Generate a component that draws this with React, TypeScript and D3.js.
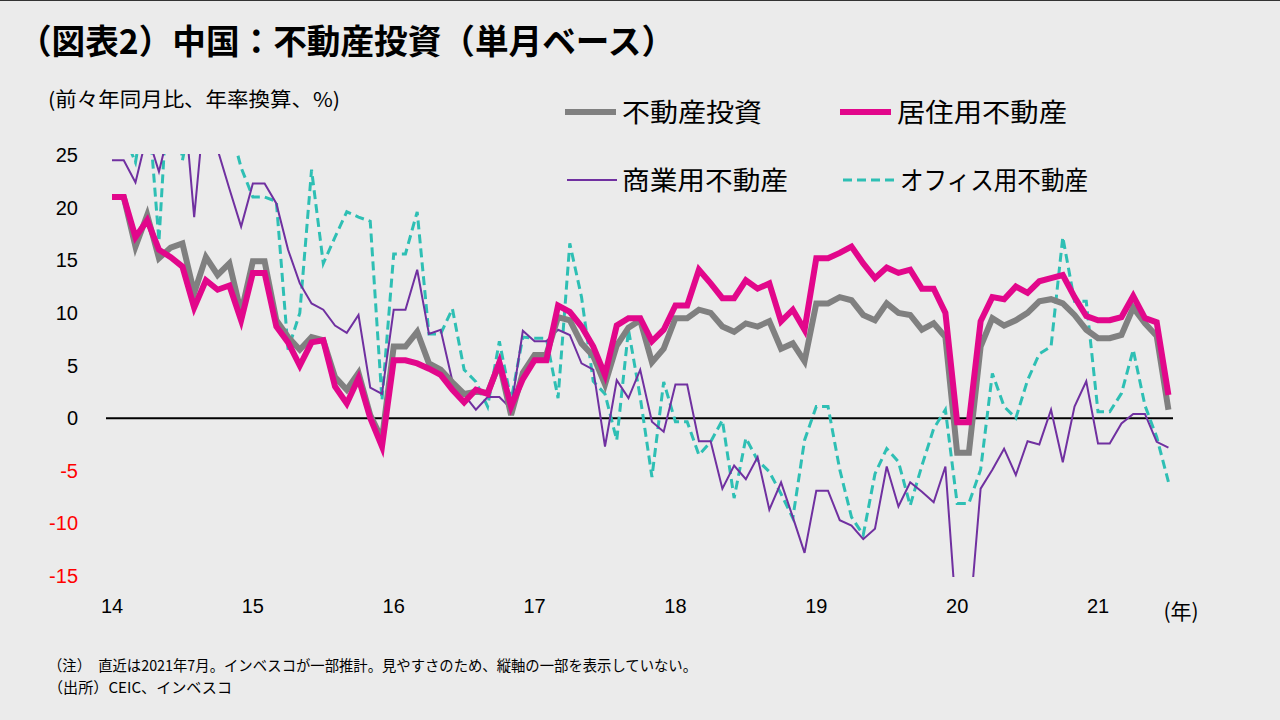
import React from "react";
import * as d3 from "d3";

// Monthly, Jan 2014 .. Jul 2021 (index 0..90)
const yearLabels = ["14", "15", "16", "17", "18", "19", "20", "21"];
const yTicks = [25, 20, 15, 10, 5, 0, -5, -10, -15];

const totalInvestment = [
  21.0, 21.0, 16.3, 19.3, 15.2, 16.2, 16.6, 11.9, 15.3, 13.6, 14.7, 10.0,
  14.9, 14.9, 9.3, 7.7, 6.5, 7.7, 7.4, 3.9, 2.7, 4.3, 0.3, -2.0,
  6.8, 6.8, 8.2, 5.2, 4.6, 3.4, 2.3, 2.5, 2.4, 5.2, 0.3, 4.3,
  6.0, 6.0, 9.6, 9.3, 7.1, 5.9, 3.2, 6.9, 8.6, 9.3, 5.3, 6.6,
  9.5, 9.5, 10.3, 10.0, 8.7, 8.2, 9.0, 8.7, 9.2, 6.6, 7.1, 5.4,
  10.9, 10.9, 11.5, 11.2, 9.8, 9.3, 10.9, 10.0, 9.8, 8.4, 9.0, 7.7,
  -3.3, -3.3, 6.8, 9.5, 8.8, 9.3, 10.0, 11.1, 11.3, 10.9, 9.8, 8.4,
  7.6, 7.6, 7.9, 10.5, 9.0, 7.8, 0.8,
];

const residential = [
  21.0, 21.0, 17.2, 18.8, 16.0, 15.3, 14.4, 10.5, 13.1, 12.2, 12.6, 9.3,
  13.8, 13.8, 8.7, 7.2, 5.0, 7.2, 7.4, 3.0, 1.4, 3.8, 0.0, -2.7,
  5.5, 5.5, 5.2, 4.7, 4.1, 2.7, 1.5, 2.7, 2.3, 5.3, 1.1, 3.7,
  5.5, 5.5, 10.7, 10.1, 8.7, 6.8, 4.1, 8.8, 9.5, 9.5, 7.3, 8.4,
  10.7, 10.7, 14.1, 12.8, 11.4, 11.4, 13.1, 12.3, 12.8, 9.2, 10.3, 8.4,
  15.2, 15.2, 15.7, 16.3, 14.7, 13.3, 14.3, 13.8, 14.1, 12.3, 12.3, 10.0,
  -0.4, -0.4, 9.2, 11.5, 11.3, 12.5, 11.9, 13.0, 13.3, 13.6, 11.5, 9.7,
  9.3, 9.3, 9.6, 11.6, 9.5, 9.1, 2.2,
];

const commercial = [
  24.5, 24.5, 22.4, 27.0, 23.4, 28.0, 32.0, 19.1, 31.0, 25.5, 21.8, 18.2,
  22.3, 22.3, 20.4, 16.0, 12.8, 10.9, 10.3, 8.8, 8.1, 9.8, 2.9, 2.3,
  10.3, 10.3, 14.1, 8.0, 8.4, 3.5, 2.2, 0.8, 2.0, 2.0, 0.9, 8.3,
  7.3, 7.3, 8.4, 7.9, 5.2, 4.6, -2.7, 3.6, 1.9, 4.6, -0.35, -1.3,
  3.2, 3.2, -2.2, -2.2, -6.7, -4.5, -5.8, -3.7, -8.7, -6.1, -9.4, -12.8,
  -6.9, -6.9, -9.7, -10.2, -11.5, -10.5, -4.6, -8.4, -6.1, -7.0, -8.0, -4.6,
  -20.0, -20.0, -6.7, -4.9, -2.9, -5.4, -2.2, -2.5, 0.8, -4.2, 1.1, 3.5,
  -2.4, -2.4, -0.5, 0.4, 0.4, -2.25, -2.8,
];

const office = [
  27.0, 27.0, 24.3, 31.0, 16.8, 36.0, 24.5, 30.0, 30.0, 30.0, 28.0, 23.8,
  21.0, 21.0, 20.6, 6.5, 10.0, 23.6, 14.7, 17.2, 19.6, 19.1, 18.7, 1.7,
  15.6, 15.6, 19.6, 8.0, 8.0, 10.4, 4.6, 3.45, 1.1, 7.3, 1.7, 7.7,
  7.6, 7.6, 1.9, 16.6, 11.5, 3.5, 2.3, -2.1, 8.4, 2.0, -5.6, 3.45,
  -0.35, -0.35, -3.5, -2.25, -0.2, -7.6, -1.9, -4.0, -5.1, -7.2, -9.5, -2.1,
  1.1, 1.1, -4.9, -9.4, -11.1, -5.3, -2.9, -4.15, -8.3, -4.5, -1.0, 0.8,
  -8.1, -8.1, -4.9, 4.25, 1.1, 0.0, 3.6, 6.1, 6.8, 17.2, 11.1, 11.1,
  0.6, 0.6, 2.35, 6.5, 1.2, -1.8, -6.05,
];

const seriesNames = ["不動産投資", "居住用不動産", "商業用不動産", "オフィス用不動産"];
const colors = { gray: "#808080", magenta: "#e2078b", purple: "#7030a0", teal: "#2ebfb4" };

const JP = "'Noto Sans CJK JP', 'Noto Sans', sans-serif";
const NUM = "'Liberation Sans', Arial, sans-serif";

export default function App() {
  const W = 1280, H = 720;
  const x = d3.scaleLinear().domain([0, 84]).range([112, 1098]);
  const y = d3.scaleLinear().domain([-15, 25]).range([576, 155]);
  const line = d3.line<number>().x((_, i) => x(i)).y((d) => y(d));

  return (
    <svg width={W} height={H} style={{ position: "absolute", left: 0, top: 0 }} xmlns="http://www.w3.org/2000/svg">
      <defs>
        <clipPath id="plot">
          <rect x={95} y={y(25) - 1} width={1100} height={y(-15) - y(25) + 2} />
        </clipPath>
      </defs>
      <rect x={0} y={0} width={W} height={H} fill="#ebebeb" />
      <line x1={0} x2={W} y1={0.5} y2={0.5} stroke="#333" strokeWidth={1} />

      <text x={18} y={54} fontFamily={JP} fontWeight={700} fontSize={34} fill="#000"
        textLength={657} lengthAdjust="spacingAndGlyphs">
        （図表2）中国：不動産投資（単月ベース）
      </text>
      <text x={48} y={107} fontFamily={JP} fontSize={20} fill="#000"
        textLength={292} lengthAdjust="spacingAndGlyphs">
        (前々年同月比、年率換算、%)
      </text>

      {/* Y ticks */}
      {yTicks.map((t) => (
        <text key={t} x={78} y={y(t) + 7} textAnchor="end" fontFamily={NUM} fontSize={20}
          fill={t < 0 ? "#ff0000" : "#000"}>
          {t}
        </text>
      ))}

      {/* X ticks */}
      {yearLabels.map((l, k) => (
        <text key={l} x={x(k * 12)} y={613} textAnchor="middle" fontFamily={NUM} fontSize={20} fill="#000">
          {l}
        </text>
      ))}
      <text x={1181} y={619} textAnchor="middle" fontFamily={JP} fontSize={21} fill="#000">(年)</text>

      {/* zero line */}
      <line x1={106} x2={1173} y1={y(0)} y2={y(0)} stroke="#000" strokeWidth={2} />

      <g clipPath="url(#plot)" fill="none" strokeLinejoin="miter">
        <path d={line(office) || ""} stroke={colors.teal} strokeWidth={3} strokeDasharray="9,5" />
        <path d={line(commercial) || ""} stroke={colors.purple} strokeWidth={2} />
        <path d={line(totalInvestment) || ""} stroke={colors.gray} strokeWidth={6} />
        <path d={line(residential) || ""} stroke={colors.magenta} strokeWidth={6} />
      </g>

      {/* Legend */}
      <line x1={565} x2={616} y1={112} y2={112} stroke={colors.gray} strokeWidth={6} />
      <text x={622} y={122} fontFamily={JP} fontSize={26} fill="#000" textLength={140} lengthAdjust="spacingAndGlyphs">{seriesNames[0]}</text>
      <line x1={840} x2={891} y1={112} y2={112} stroke={colors.magenta} strokeWidth={6} />
      <text x={897} y={122} fontFamily={JP} fontSize={26} fill="#000" textLength={170} lengthAdjust="spacingAndGlyphs">{seriesNames[1]}</text>
      <line x1={567} x2={617} y1={180} y2={180} stroke={colors.purple} strokeWidth={2} />
      <text x={622} y={190} fontFamily={JP} fontSize={26} fill="#000" textLength={166} lengthAdjust="spacingAndGlyphs">{seriesNames[2]}</text>
      <line x1={843} x2={896} y1={180} y2={180} stroke={colors.teal} strokeWidth={3} strokeDasharray="9,5" />
      <text x={900} y={190} fontFamily={JP} fontSize={26} fill="#000" textLength={188} lengthAdjust="spacingAndGlyphs">{seriesNames[3]}</text>

      {/* Footnotes */}
      <text x={48} y={671} fontFamily={JP} fontSize={15} fill="#000" textLength={649} lengthAdjust="spacingAndGlyphs">
        （注）　直近は2021年7月。インベスコが一部推計。見やすさのため、縦軸の一部を表示していない。
      </text>
      <text x={48} y={693} fontFamily={JP} fontSize={15} fill="#000" textLength={184} lengthAdjust="spacingAndGlyphs">
        （出所）CEIC、インベスコ
      </text>
    </svg>
  );
}
